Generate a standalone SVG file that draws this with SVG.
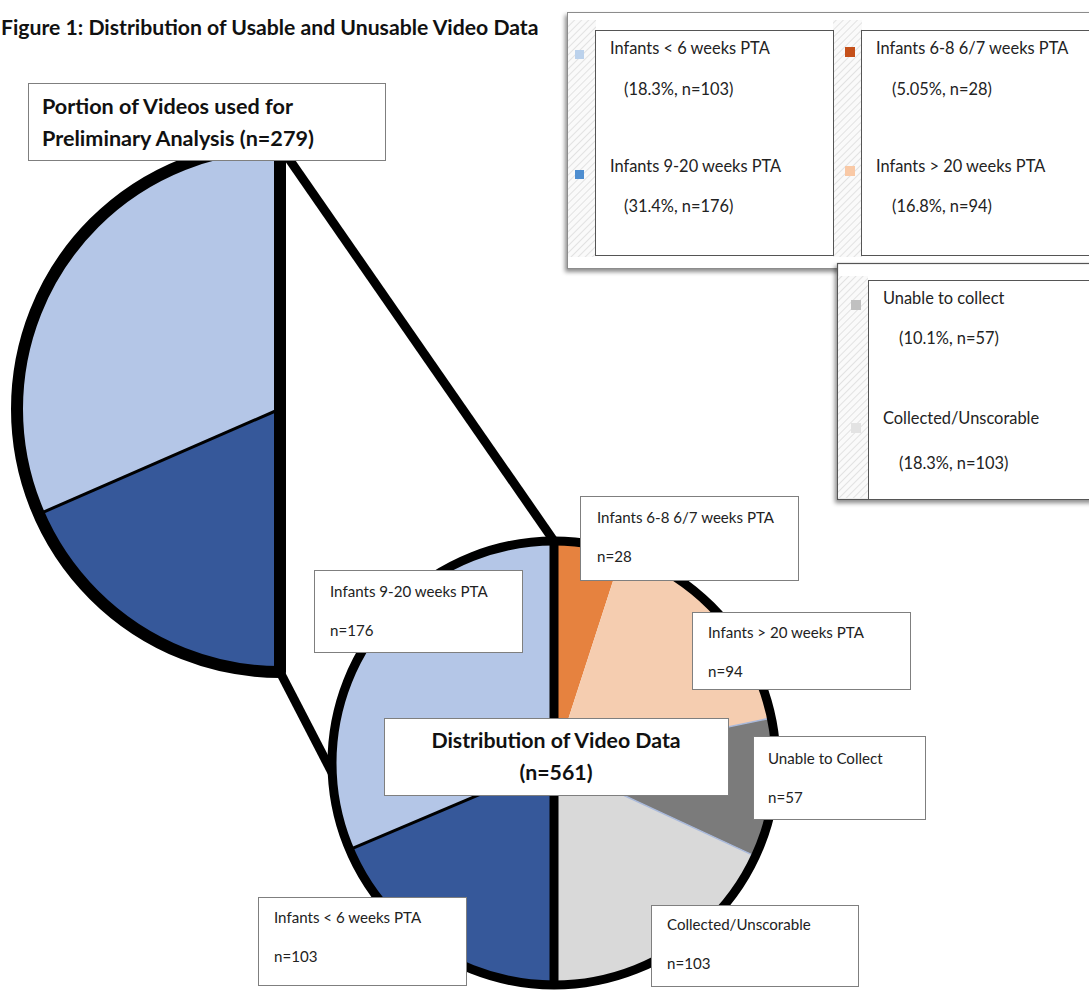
<svg xmlns="http://www.w3.org/2000/svg" width="1089" height="990" viewBox="0 0 1089 990">
<style>
.lbl{fill:#fff;stroke:#7f7f7f;stroke-width:1}
.t{font-family:Lato,"Liberation Sans",sans-serif;font-size:15.1px;fill:#222}
.lt{font-family:Lato,"Liberation Sans",sans-serif;font-size:16.4px;fill:#222}
.b{font-family:Lato,"Liberation Sans",sans-serif;font-weight:bold;fill:#111}
.frame{fill:#fff;stroke:#555;stroke-width:1}
.outl{fill:none;stroke:#000;stroke-linejoin:round}
</style>
<defs>
<pattern id="hatch" patternUnits="userSpaceOnUse" width="5" height="5" patternTransform="rotate(45)">
<rect width="5" height="5" fill="#fafafa"/>
<line x1="0" y1="0" x2="0" y2="5" stroke="#e2e2e2" stroke-width="2"/>
</pattern>
<filter id="sh" x="-10%" y="-10%" width="120%" height="120%">
<feDropShadow dx="-2" dy="3" stdDeviation="2" flood-color="#000" flood-opacity="0.45"/>
</filter>
</defs>
<rect width="1089" height="990" fill="#fff"/>

<text class="b" x="1" y="35" font-size="21.2">Figure 1: Distribution of Usable and Unusable Video Data</text>

<g id="connectors">
<line x1="280" y1="146" x2="554" y2="541" stroke="#000" stroke-width="9"/>
<line x1="280" y1="672" x2="372" y2="850" stroke="#000" stroke-width="9"/>
</g>

<g id="pie-left">
<path d="M280,409 L280,672 A263,263 0 0 1 38.91,514.09 Z" fill="#36589a"/>
<path d="M280,409 L38.91,514.09 A263,263 0 0 1 280,146 Z" fill="#b4c6e7"/>
<line x1="280" y1="409" x2="38.91" y2="514.09" stroke="#000" stroke-width="3"/>
<path class="outl" d="M280,146 A263,263 0 0 0 280,672 Z" stroke-width="12"/>
</g>

<g id="pie-right">
<path d="M554,763 L554,541 A222,222 0 0 1 622.5,551.83 Z" fill="#e6823f"/>
<path d="M554,763 L622.5,551.83 A222,222 0 0 1 771.38,717.94 Z" fill="#f5cdb0"/>
<path d="M554,763 L771.38,717.94 A222,222 0 0 1 755.44,856.34 Z" fill="#7b7b7b"/>
<path d="M554,763 L755.44,856.34 A222,222 0 0 1 550.27,984.97 Z" fill="#d9d9d9"/>
<path d="M554,763 L550.27,984.97 A222,222 0 0 1 349.55,849.54 Z" fill="#36589a"/>
<path d="M554,763 L349.55,849.54 A222,222 0 0 1 554,541 Z" fill="#b4c6e7"/>
<line x1="554" y1="763" x2="771.38" y2="717.94" stroke="#a9b9da" stroke-width="1.5"/>
<line x1="554" y1="763" x2="755.44" y2="856.34" stroke="#a9b9da" stroke-width="1.5"/>
<line x1="554" y1="763" x2="349.55" y2="849.54" stroke="#000" stroke-width="3"/>
<circle class="outl" cx="554" cy="763" r="222" stroke-width="9"/>
<line x1="554" y1="541" x2="554" y2="985" stroke="#000" stroke-width="9"/>
</g>

<g id="title-left">
<rect class="lbl" x="28.5" y="83.5" width="357" height="77"/>
<text class="b" x="42" y="114" font-size="21.6">Portion of Videos used for</text>
<text class="b" x="42" y="146" font-size="21.6">Preliminary Analysis (n=279)</text>
</g>

<g id="label-6-8">
<rect class="lbl" x="580.5" y="496.5" width="218" height="84"/>
<text class="t" x="597" y="523">Infants 6-8 6/7 weeks PTA</text>
<text class="t" x="597" y="562">n=28</text>
</g>
<g id="label-9-20">
<rect class="lbl" x="314.5" y="570.5" width="208" height="82"/>
<text class="t" x="330" y="597">Infants 9-20 weeks PTA</text>
<text class="t" x="330" y="636">n=176</text>
</g>
<g id="label-gt20">
<rect class="lbl" x="692.5" y="612.5" width="218" height="77"/>
<text class="t" x="708" y="638">Infants &gt; 20 weeks PTA</text>
<text class="t" x="708" y="677">n=94</text>
</g>
<g id="title-right">
<rect class="lbl" x="384.5" y="718.5" width="344" height="77"/>
<text class="b" x="556" y="748" font-size="21.3" text-anchor="middle">Distribution of Video Data</text>
<text class="b" x="556" y="780" font-size="21.3" text-anchor="middle">(n=561)</text>
</g>
<g id="label-unable">
<rect class="lbl" x="753.5" y="736.5" width="172" height="83"/>
<text class="t" x="768" y="764">Unable to Collect</text>
<text class="t" x="768" y="803">n=57</text>
</g>
<g id="label-unscorable">
<rect class="lbl" x="651.5" y="905.5" width="207" height="81"/>
<text class="t" x="667" y="930">Collected/Unscorable</text>
<text class="t" x="667" y="969">n=103</text>
</g>
<g id="label-lt6">
<rect class="lbl" x="258.5" y="897.5" width="208" height="88"/>
<text class="t" x="274" y="923">Infants &lt; 6 weeks PTA</text>
<text class="t" x="274" y="962">n=103</text>
</g>

<g id="legend-1">
<rect x="567.5" y="12.5" width="540" height="256" fill="#fff" stroke="#8c8c8c" stroke-width="1" filter="url(#sh)"/>
<rect x="568" y="20" width="28" height="237" fill="url(#hatch)"/>
<rect x="833" y="20" width="29" height="237" fill="url(#hatch)"/>
<rect class="frame" x="595.5" y="30.5" width="238" height="225"/>
<rect class="frame" x="861.5" y="30.5" width="240" height="225"/>
<rect x="575" y="50" width="9" height="9" fill="#bcd2ec"/>
<rect x="575" y="170" width="9" height="9" fill="#4f8ed0"/>
<rect x="845" y="47" width="10" height="10" fill="#c5501a"/>
<rect x="845" y="166" width="10" height="10" fill="#f9c9a6"/>
<text class="lt" x="610" y="54">Infants &lt; 6 weeks PTA</text>
<text class="lt" x="624" y="95">(18.3%, n=103)</text>
<text class="lt" x="610" y="172">Infants 9-20 weeks PTA</text>
<text class="lt" x="624" y="212">(31.4%, n=176)</text>
<text class="lt" x="876" y="54">Infants 6-8 6/7 weeks PTA</text>
<text class="lt" x="892" y="95">(5.05%, n=28)</text>
<text class="lt" x="876" y="172">Infants &gt; 20 weeks PTA</text>
<text class="lt" x="892" y="212">(16.8%, n=94)</text>
</g>

<g id="legend-2">
<rect x="837.5" y="263.5" width="260" height="236" fill="#fff" stroke="#555" stroke-width="1.2" filter="url(#sh)"/>
<rect x="838" y="276" width="30" height="222" fill="url(#hatch)"/>
<rect class="frame" x="868.5" y="280.5" width="230" height="219"/>
<rect x="851" y="300" width="10" height="10" fill="#c0c0c0"/>
<rect x="851" y="423" width="10" height="10" fill="#e3e3e3"/>
<text class="lt" x="883" y="304">Unable to collect</text>
<text class="lt" x="899" y="344">(10.1%, n=57)</text>
<text class="lt" x="883" y="424">Collected/Unscorable</text>
<text class="lt" x="899" y="469">(18.3%, n=103)</text>
</g>
</svg>
